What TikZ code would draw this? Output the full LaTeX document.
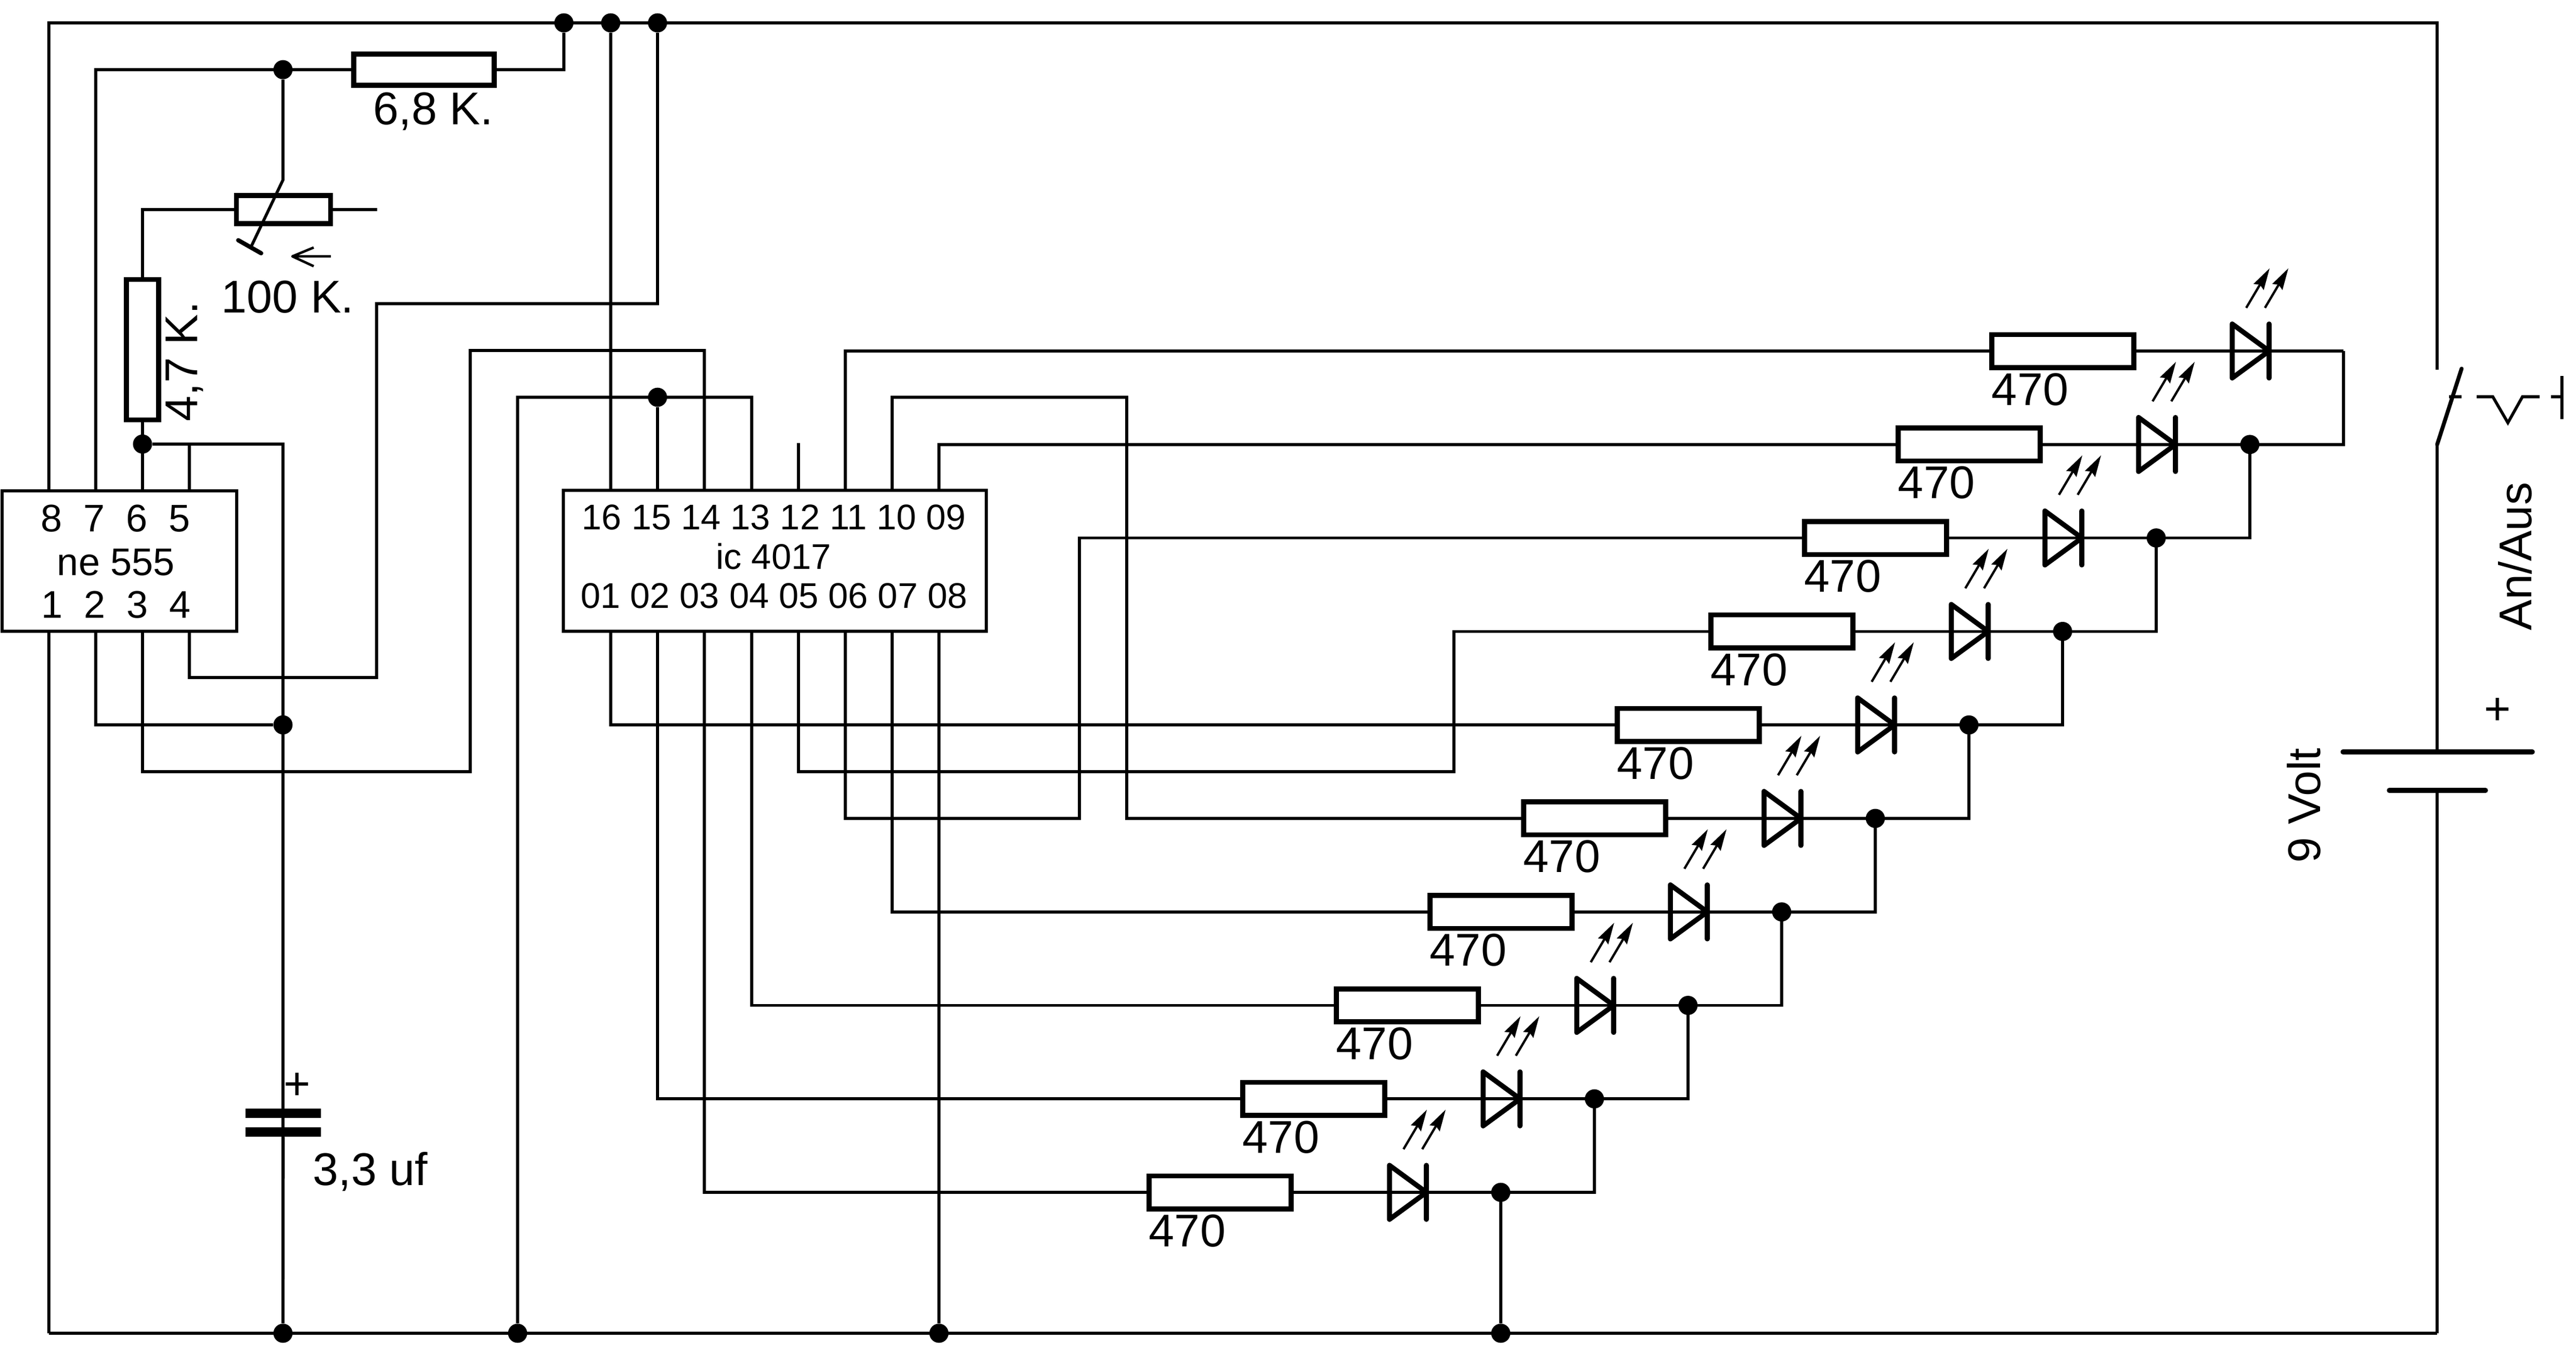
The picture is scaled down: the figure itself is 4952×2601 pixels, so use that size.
\documentclass[tikz,border=0pt]{standalone}
\usepackage{fontspec}
\setmainfont{Liberation Sans}
\usetikzlibrary{arrows.meta}
\tikzset{
  wire/.style={line width=1.8pt, line join=miter},
  heavy/.style={line width=3pt, line join=round, line cap=round},
  dot/.style={circle, fill=black, draw=none, inner sep=0pt, minimum size=11.6pt},
  res/.style={rectangle, draw, line width=3pt, inner sep=0pt, minimum width=86pt, minimum height=20pt},
  chip/.style={rectangle, draw, line width=1.9pt, inner sep=0pt},
  lab/.style={inner sep=0pt, anchor=base, font=\fontsize{27.8}{27.8}\selectfont},
  labrot/.style={inner sep=0pt, anchor=base west, rotate=90, font=\fontsize{27.8}{27.8}\selectfont},
  pinsA/.style={inner sep=0pt, anchor=base, font=\fontsize{23.3}{23.3}\selectfont},
  pinsB/.style={inner sep=0pt, anchor=base, font=\fontsize{21.6}{21.6}\selectfont},
  ledarrow/.style={line width=1.4pt, -{Stealth[length=13pt,width=7pt,inset=1.5pt]}},
}
\begin{document}
\begin{tikzpicture}[x=0.315pt,y=-0.315pt]
\useasboundingbox (0,0) rectangle (4952,2601);

% --- chips
\node[chip, minimum width=142pt, minimum height=85pt] (ne) at (229.5,1079) {};
\node[pinsA] (ne1) at (222,1022) {8~~7~~6~~5};
\node[pinsA] (ne2) at (223,1106) {ne 555};
\node[pinsA] (ne3) at (223,1188) {1~~2~~3~~4};
\node[chip, minimum width=256pt, minimum height=85.4pt] (ic) at (1489.5,1078.5) {};
\node[pinsB] (ic1) at (1488,1018) {16 15 14 13 12 11 10 09};
\node[pinsB] (ic2) at (1487,1094) {ic 4017};
\node[pinsB] (ic3) at (1488,1169) {01 02 03 04 05 06 07 08};

% --- chip pins
\foreach \n/\x in {8/94,7/184,6/274,5/364}{\coordinate (nt\n) at (\x,944);}
\foreach \n/\x in {1/94,2/184,3/274,4/364}{\coordinate (nb\n) at (\x,1214);}
\foreach \n/\x in {16/1174,15/1264,14/1354,13/1445,12/1535,11/1625,10/1715,09/1805}{\coordinate (t\n) at (\x,943);}
\foreach \n/\x in {01/1174,02/1264,03/1354,04/1445,05/1535,06/1625,07/1715,08/1805}{\coordinate (p\n) at (\x,1214);}

% --- junctions
\node[dot] (a1) at (1084,44) {};
\node[dot] (a2) at (1174,44) {};
\node[dot] (a3) at (1264,44) {};
\node[dot] (a4) at (544,134) {};
\node[dot] (a5) at (274,854) {};
\node[dot] (a6) at (1264,764) {};
\node[dot] (a7) at (544,1394) {};
\node[dot] (b1) at (544,2564) {};
\node[dot] (b2) at (995,2564) {};
\node[dot] (b3) at (1805,2564) {};
\node[dot] (b4) at (2885,2564) {};
\coordinate (cTL) at (94,44);
\coordinate (cTR) at (4685,44);
\coordinate (cBL) at (94,2564);
\coordinate (cBR) at (4685,2564);

% --- LED rows
\foreach \i in {1,...,10}{
  \pgfmathsetmacro\ry{675+179.78*(\i-1)}
  \pgfmathsetmacro\off{180*(10-\i)}
  \pgfmathsetmacro\rx{2345.5+\off}
  \pgfmathsetmacro\bx{2742+\off}
  \pgfmathsetmacro\jx{2885+\off}
  \node[res] (r\i) at (\rx,\ry) {};
  \node[lab] (l\i) at (\rx-63,\ry+104) {470};
  \coordinate (dk\i) at (\bx,\ry);
  \coordinate (j\i) at (\jx,\ry);
  \ifnum\i>1 \node[dot] (jd\i) at (\jx,\ry) {}; \fi
  \draw[wire] (r\i.east) -- (j\i);
  \draw[heavy] (\bx-71,\ry-52) -- (\bx,\ry) -- (\bx-71,\ry+52) -- cycle;
  \draw[heavy] (\bx,\ry-52) -- (\bx,\ry+52);
  \draw[ledarrow] (\bx-44,\ry-83) -- (\bx+1,\ry-159);
  \draw[ledarrow] (\bx-8,\ry-83) -- (\bx+37,\ry-159);
}
\foreach \i in {2,...,10}{
  \pgfmathtruncatemacro\p{\i-1}
  \draw[wire] (j\i) -- (j\i -| j\p) -- (j\p);
}
\draw[wire] (j10) -- (b4);

% --- outputs of the counter to the LED rows
\coordinate (c3) at (2075,1574);
\coordinate (c4) at (2795,1484);
\coordinate (c6) at (2166,764);
\draw[wire] (t11) |- (r1.west);
\draw[wire] (t09) |- (r2.west);
\draw[wire] (p06) |- (c3) |- (r3.west);
\draw[wire] (p05) |- (c4) |- (r4.west);
\draw[wire] (p01) |- (r5.west);
\draw[wire] (t10) |- (c6) |- (r6.west);
\draw[wire] (p07) |- (r7.west);
\draw[wire] (p04) |- (r8.west);
\draw[wire] (p02) |- (r9.west);
\draw[wire] (p03) |- (r10.west);
\draw[wire] (p08) -- (b3);

% --- passive parts
\node[res, minimum width=85pt, minimum height=19pt] (r68) at (815,134) {};
\node[lab] (l68) at (833,239) {6,8 K.};
\node[res, minimum width=57pt, minimum height=17pt] (pot) at (545,403) {};
\node[lab] (l100) at (553,601) {100 K.};
\node[res, minimum width=19.5pt, minimum height=85pt] (r47) at (274,672.5) {};
\node[labrot] (l47) at (379,811) {4,7 K.};
\coordinate (potEnd) at (725,403);
\coordinate (wipTop) at (544,346);
\coordinate (wipEnd) at (482,476);
\coordinate (tb1) at (458,462);
\coordinate (tb2) at (502,487);
\coordinate (ah) at (562,493);
\coordinate (at) at (636,493);
\coordinate (ah1) at (603,476);
\coordinate (ah2) at (603,512);

% --- wiring of the timer
\draw[wire] (cBL) -- (nb1);
\draw[wire] (nt8) -- (cTL) -- (cTR) -- (4685,711);
\draw[wire] (nt7) |- (r68.west);
\draw[wire] (r68.east) -| (a1);
\draw[wire] (a4) -- (wipTop) -- (wipEnd);
\draw[heavy, line width=2.6pt] (tb1) -- (tb2);
\draw[wire, line width=1.5pt, line join=round] (at) -- (ah) (ah1) -- (ah) -- (ah2);
\draw[wire] (r47.north) |- (pot.west);
\draw[wire] (pot.east) -- (potEnd);
\draw[wire] (r47.south) -- (nt6);
\draw[wire] (nt5) |- (a5);
\draw[wire] (a5) -| (b1);
\draw[wire] (nb2) |- (a7);
\draw[wire] (nb3) |- (904,1484) |- (1354,674) -- (t14);
\draw[wire] (nb4) |- (724,1303) |- (1264,584) -- (a3);
\draw[wire] (a2) -- (t16);
\draw[wire] (a6) -- (t15);
\draw[wire] (b2) |- (1445,764) -- (t13);
\draw[wire] (t12) -- (1535,852);

% --- capacitor
\node[rectangle, fill=black, inner sep=0pt, minimum width=45.7pt, minimum height=5.8pt] (cp1) at (544.5,2141) {};
\node[rectangle, fill=black, inner sep=0pt, minimum width=45.7pt, minimum height=5.8pt] (cp2) at (544.5,2177) {};
\node[lab] (capplus) at (571,2114) {+};
\node[lab] (lcap) at (712,2279) {3,3 uf};
\draw[wire] (cp2) -- (b1);

% --- bottom rail
\draw[wire] (cBL) -- (cBR);

% --- switch and battery
\coordinate (sw1) at (4685,855);
\coordinate (sw2) at (4732,709);
\coordinate (bat1) at (4685,1446);
\coordinate (bat2) at (4685,1520);
\draw[heavy, line width=2.4pt] (sw1) -- (sw2);
\draw[wire] (4708,763) -- (4732,763);
\draw[wire] (4761,763) -- (4792,763) -- (4821,813) -- (4849,763) -- (4882,763);
\draw[wire] (4904,763) -- (4925,763);
\draw[wire, line width=2pt] (4925,723) -- (4925,806);
\draw[wire] (sw1) -- (bat1);
\draw[heavy] (4504,1446) -- (4868,1446);
\draw[heavy] (4593,1520) -- (4778,1520);
\draw[wire] (bat2) -- (cBR);
\node[labrot] (lsw) at (4866,1213) {An/Aus};
\node[labrot] (lbat) at (4460,1660) {9 Volt};
\node[lab] (batplus) at (4801,1393) {+};
\end{tikzpicture}
\end{document}
